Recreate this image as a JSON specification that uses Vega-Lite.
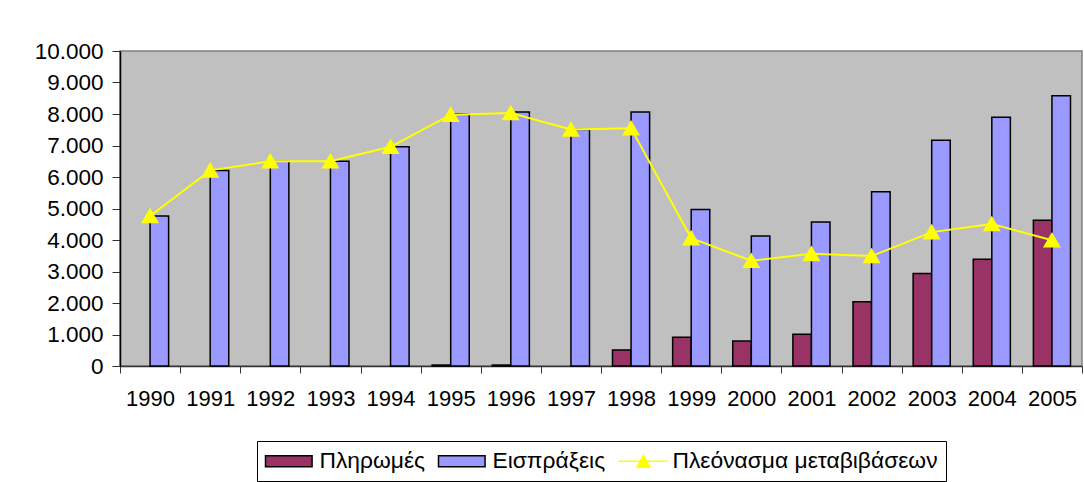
{
  "$schema": "https://vega.github.io/schema/vega-lite/v6.json",
  "width": 962,
  "height": 315,
  "autosize": {"type": "none"},
  "padding": {"left": 120, "top": 51, "right": 2, "bottom": 116},
  "background": "#FFFFFF",
  "config": {
    "font": "Liberation Sans",
    "view": {"fill": "#C0C0C0", "stroke": "#808080", "strokeWidth": 1.5}
  },
  "data": {
    "values": [
      {"year": "1990", "series": "Πληρωμές", "value": 0},
      {"year": "1991", "series": "Πληρωμές", "value": 0},
      {"year": "1992", "series": "Πληρωμές", "value": 0},
      {"year": "1993", "series": "Πληρωμές", "value": 0},
      {"year": "1994", "series": "Πληρωμές", "value": 0},
      {"year": "1995", "series": "Πληρωμές", "value": 30},
      {"year": "1996", "series": "Πληρωμές", "value": 30},
      {"year": "1997", "series": "Πληρωμές", "value": 0},
      {"year": "1998", "series": "Πληρωμές", "value": 510},
      {"year": "1999", "series": "Πληρωμές", "value": 910},
      {"year": "2000", "series": "Πληρωμές", "value": 790},
      {"year": "2001", "series": "Πληρωμές", "value": 1010},
      {"year": "2002", "series": "Πληρωμές", "value": 2040},
      {"year": "2003", "series": "Πληρωμές", "value": 2940},
      {"year": "2004", "series": "Πληρωμές", "value": 3390},
      {"year": "2005", "series": "Πληρωμές", "value": 4630},
      {"year": "1990", "series": "Εισπράξεις", "value": 4760},
      {"year": "1991", "series": "Εισπράξεις", "value": 6210},
      {"year": "1992", "series": "Εισπράξεις", "value": 6500},
      {"year": "1993", "series": "Εισπράξεις", "value": 6500},
      {"year": "1994", "series": "Εισπράξεις", "value": 6960},
      {"year": "1995", "series": "Εισπράξεις", "value": 8010},
      {"year": "1996", "series": "Εισπράξεις", "value": 8060},
      {"year": "1997", "series": "Εισπράξεις", "value": 7510},
      {"year": "1998", "series": "Εισπράξεις", "value": 8060},
      {"year": "1999", "series": "Εισπράξεις", "value": 4970},
      {"year": "2000", "series": "Εισπράξεις", "value": 4130},
      {"year": "2001", "series": "Εισπράξεις", "value": 4570},
      {"year": "2002", "series": "Εισπράξεις", "value": 5530},
      {"year": "2003", "series": "Εισπράξεις", "value": 7170},
      {"year": "2004", "series": "Εισπράξεις", "value": 7900},
      {"year": "2005", "series": "Εισπράξεις", "value": 8580},
      {"year": "1990", "series": "Πλεόνασμα μεταβιβάσεων", "value": 4760},
      {"year": "1991", "series": "Πλεόνασμα μεταβιβάσεων", "value": 6210},
      {"year": "1992", "series": "Πλεόνασμα μεταβιβάσεων", "value": 6500},
      {"year": "1993", "series": "Πλεόνασμα μεταβιβάσεων", "value": 6500},
      {"year": "1994", "series": "Πλεόνασμα μεταβιβάσεων", "value": 6960},
      {"year": "1995", "series": "Πλεόνασμα μεταβιβάσεων", "value": 7980},
      {"year": "1996", "series": "Πλεόνασμα μεταβιβάσεων", "value": 8030},
      {"year": "1997", "series": "Πλεόνασμα μεταβιβάσεων", "value": 7510},
      {"year": "1998", "series": "Πλεόνασμα μεταβιβάσεων", "value": 7550},
      {"year": "1999", "series": "Πλεόνασμα μεταβιβάσεων", "value": 4060},
      {"year": "2000", "series": "Πλεόνασμα μεταβιβάσεων", "value": 3340},
      {"year": "2001", "series": "Πλεόνασμα μεταβιβάσεων", "value": 3560},
      {"year": "2002", "series": "Πλεόνασμα μεταβιβάσεων", "value": 3490},
      {"year": "2003", "series": "Πλεόνασμα μεταβιβάσεων", "value": 4250},
      {"year": "2004", "series": "Πλεόνασμα μεταβιβάσεων", "value": 4510},
      {"year": "2005", "series": "Πλεόνασμα μεταβιβάσεων", "value": 3990}
    ]
  },
  "encoding": {
    "x": {
      "field": "year",
      "type": "nominal",
      "scale": {"paddingInner": 0, "paddingOuter": 0},
      "axis": {
        "title": null,
        "labelAngle": 0,
        "tickBand": "extent",
        "tickSize": 7,
        "tickColor": "#333333",
        "domainColor": "#333333",
        "domainWidth": 1.5,
        "labelFontSize": 22,
        "labelColor": "#000000",
        "labelPadding": 15,
        "labelFont": "Liberation Sans"
      }
    },
    "y": {
      "field": "value",
      "type": "quantitative",
      "scale": {"domain": [0, 10000], "nice": false},
      "axis": {
        "title": null,
        "grid": false,
        "values": [0, 1000, 2000, 3000, 4000, 5000, 6000, 7000, 8000, 9000, 10000],
        "labelExpr": "replace(format(datum.value, ','), ',', '.')",
        "tickSize": 8,
        "tickColor": "#333333",
        "domainColor": "#000000",
        "domainWidth": 1.5,
        "labelFontSize": 22.5,
        "labelColor": "#000000",
        "labelPadding": 9,
        "labelFont": "Liberation Sans"
      }
    }
  },
  "layer": [
    {
      "transform": [
        {"filter": "datum.series !== 'Πλεόνασμα μεταβιβάσεων'"},
        {"filter": "datum.value > 0"}
      ],
      "mark": {"type": "bar", "stroke": "#000000", "strokeWidth": 1.5, "opacity": 1},
      "encoding": {
        "xOffset": {
          "field": "series",
          "type": "nominal",
          "sort": ["Πληρωμές", "Εισπράξεις"],
          "scale": {"domain": ["Πληρωμές", "Εισπράξεις"], "paddingInner": 0, "paddingOuter": 0.62}
        },
        "fill": {
          "field": "series",
          "type": "nominal",
          "scale": {
            "domain": ["Πληρωμές", "Εισπράξεις", "Πλεόνασμα μεταβιβάσεων"],
            "range": ["#993366", "#9999FF", "#FFFF00"]
          },
          "legend": {
            "title": null,
            "orient": "none",
            "legendX": 137,
            "legendY": 390,
            "direction": "horizontal",
            "padding": 7.5,
            "strokeColor": "#000000",
            "fillColor": "#FFFFFF",
            "labelFontSize": 22.8,
            "labelFont": "Liberation Sans",
            "labelColor": "#000000",
            "labelOffset": 30,
            "columnPadding": 10,
            "symbolSize": 529,
            "symbolStrokeWidth": 1.5,
            "symbolStrokeColor": "#000000",
            "symbolOpacity": 1,
            "labelLimit": 400,
            "encode": {
              "symbols": {
                "update": {
                  "shape": {"signal": "datum.value === 'Πλεόνασμα μεταβιβάσεων' ? 'M-1,0H3.3M0.6,0.52L1.17,-0.52L1.74,0.52Z' : 'M-1,-0.48H3.05V0.48H-1Z'"}
                }
              }
            }
          }
        }
      }
    },
    {
      "transform": [{"filter": "datum.series === 'Πλεόνασμα μεταβιβάσεων'"}],
      "mark": {
        "type": "line",
        "strokeWidth": 2,
        "point": {"shape": "triangle-up", "size": 210, "filled": true, "fill": "#FFFF00", "opacity": 1}
      },
      "encoding": {
        "stroke": {
          "field": "series",
          "type": "nominal",
          "scale": {
            "domain": ["Πληρωμές", "Εισπράξεις", "Πλεόνασμα μεταβιβάσεων"],
            "range": ["#000000", "#000000", "#FFFF00"]
          },
          "legend": {
            "title": null,
            "orient": "none",
            "legendX": 137,
            "legendY": 390,
            "direction": "horizontal",
            "padding": 7.5,
            "strokeColor": "#000000",
            "fillColor": "#FFFFFF",
            "labelFontSize": 22.8,
            "labelFont": "Liberation Sans",
            "labelColor": "#000000",
            "labelOffset": 30,
            "columnPadding": 10,
            "symbolSize": 529,
            "symbolStrokeWidth": 1.5,
            "symbolStrokeColor": "#000000",
            "symbolOpacity": 1,
            "labelLimit": 400,
            "encode": {
              "symbols": {
                "update": {
                  "shape": {"signal": "datum.value === 'Πλεόνασμα μεταβιβάσεων' ? 'M-1,0H3.3M0.6,0.52L1.17,-0.52L1.74,0.52Z' : 'M-1,-0.48H3.05V0.48H-1Z'"}
                }
              }
            }
          }
        }
      }
    }
  ]
}
